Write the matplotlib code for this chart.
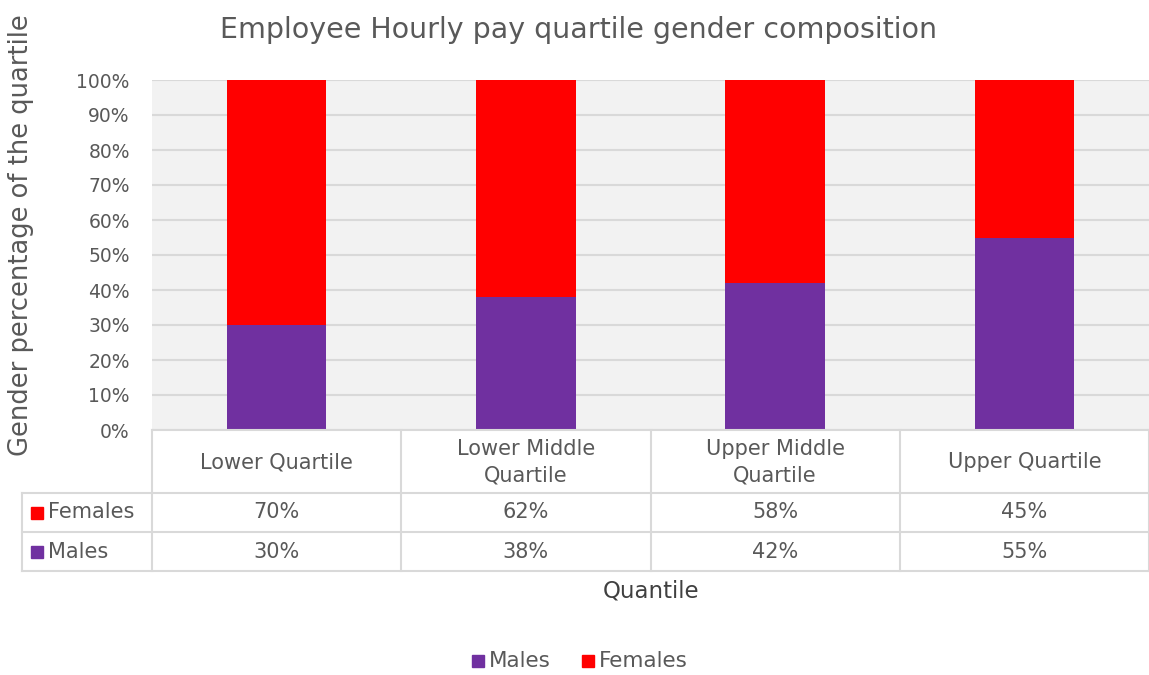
import matplotlib.pyplot as plt
from matplotlib.lines import Line2D
from matplotlib.patches import Rectangle
import numpy as np

plt.rcParams['font.family'] = ['DejaVu Sans']

# data
quartiles = ['Lower Quartile', 'Lower Middle\nQuartile', 'Upper Middle\nQuartile', 'Upper Quartile']
males = [30, 38, 42, 55]
females = [70, 62, 58, 45]
male_labels = ['30%', '38%', '42%', '55%']
female_labels = ['70%', '62%', '58%', '45%']

purple = '#7030A0'
red = '#FF0000'
grid_col = '#d9d9d9'
text_col = '#595959'

W, H = 1149, 675
fig = plt.figure(figsize=(W / 100, H / 100), dpi=100)

# plot area in pixels
x0, x1, ytop, ybot = 152, 1149, 80, 430
ax = fig.add_axes([x0 / W, 1 - ybot / H, (x1 - x0) / W, (ybot - ytop) / H])
ax.set_facecolor('#f2f2f2')
x = np.arange(len(quartiles))
ax.bar(x, males, width=0.4, color=purple, zorder=3)
ax.bar(x, females, width=0.4, bottom=males, color=red, zorder=3)
ax.set_xlim(-0.5, len(quartiles) - 0.5)
ax.set_ylim(0, 100)
ax.set_yticks(range(0, 101, 10))
ax.set_yticklabels([f'{v}%' for v in range(0, 101, 10)], fontsize=13.5, color=text_col)
ax.set_xticks([])
ax.tick_params(axis='y', length=0, pad=16)
ax.grid(axis='y', color=grid_col, linewidth=1.5, zorder=0)
for s in ax.spines.values():
    s.set_visible(False)
ax.set_ylabel('Gender percentage of the quartile', fontsize=18.5, color=text_col)
ax.yaxis.set_label_coords(-0.118, 0.557)

# data table drawn on an overlay in pixel coordinates
ov = fig.add_axes([0, 0, 1, 1])
ov.set_xlim(0, W)
ov.set_ylim(H, 0)
ov.axis('off')

col_w = (x1 - x0) / len(quartiles)
edges = [x0 + i * col_w for i in range(len(quartiles) + 1)]
r0, r1, r2, r3 = 430, 493, 532, 571
tl = 22
lw = 1.5
# horizontal lines
ov.add_line(Line2D([x0, x1], [r0, r0], color=grid_col, lw=lw))
for r in (r1, r2, r3):
    ov.add_line(Line2D([tl, x1], [r, r], color=grid_col, lw=lw))
# vertical lines
for e in edges:
    ov.add_line(Line2D([e, e], [r0, r3], color=grid_col, lw=lw))
ov.add_line(Line2D([tl, tl], [r1, r3], color=grid_col, lw=lw))

fs = 15
for i, q in enumerate(quartiles):
    cx = (edges[i] + edges[i + 1]) / 2
    ov.text(cx, (r0 + r1) / 2 + 1, q, ha='center', va='center', fontsize=fs,
            color=text_col, linespacing=1.4)
    ov.text(cx, (r1 + r2) / 2, female_labels[i], ha='center', va='center', fontsize=fs, color=text_col)
    ov.text(cx, (r2 + r3) / 2, male_labels[i], ha='center', va='center', fontsize=fs, color=text_col)

for (lab, col, r_a, r_b) in [('Females', red, r1, r2), ('Males', purple, r2, r3)]:
    cy = (r_a + r_b) / 2
    ov.add_patch(Rectangle((31, cy - 6), 12, 12, color=col))
    ov.text(48, cy, lab, ha='left', va='center', fontsize=fs, color=text_col)

ov.text(651, 591, 'Quantile', ha='center', va='center', fontsize=16.5, color='#404040')
ov.text(578, 30, 'Employee Hourly pay quartile gender composition', ha='center', va='center',
        fontsize=20.5, color=text_col)

# legend
ov.add_patch(Rectangle((472, 655), 12, 12, color=purple))
ov.text(489, 661, 'Males', ha='left', va='center', fontsize=15.5, color=text_col)
ov.add_patch(Rectangle((582, 655), 12, 12, color=red))
ov.text(599, 661, 'Females', ha='left', va='center', fontsize=15.5, color=text_col)

fig.savefig('out.png', dpi=100)
